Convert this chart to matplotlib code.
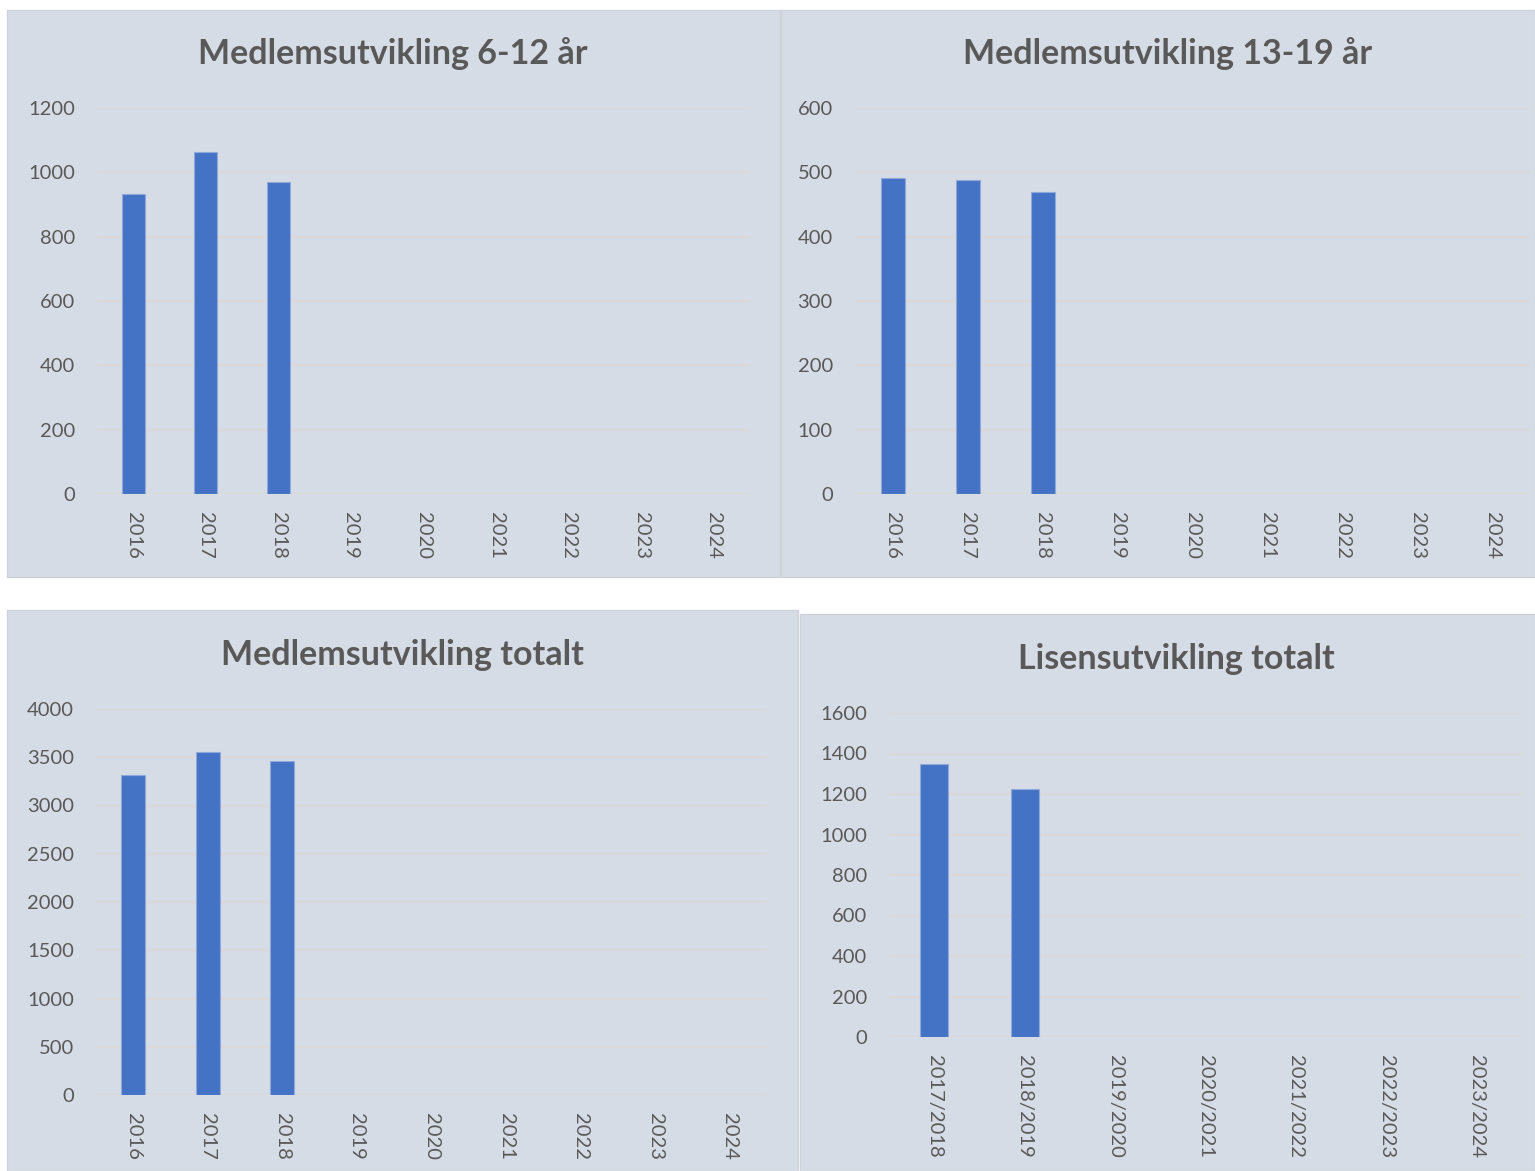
import matplotlib as mpl
mpl.use('Agg')
import matplotlib.pyplot as plt
from matplotlib.patches import Rectangle

years = ['2016', '2017', '2018', '2019', '2020', '2021', '2022', '2023', '2024']
seasons = ['2017/2018', '2018/2019', '2019/2020', '2020/2021', '2021/2022', '2022/2023', '2023/2024']

members_6_12 = [934, 1062, 969]
members_13_19 = [491, 488, 470]
members_total = [3316, 3554, 3461]
licenses_total = [1348, 1225]

titles = ['Medlemsutvikling 6-12 år', 'Medlemsutvikling 13-19 år',
          'Medlemsutvikling totalt', 'Lisensutvikling totalt']

W, H = 1535, 1171
BG = '#D6DCE5'
BAR = '#4472C4'
GRID = '#D9D9D9'
TXT = '#595959'

plt.rcParams['font.family'] = ['Lato', 'DejaVu Sans']

fig = plt.figure(figsize=(W / 100, H / 100), dpi=100)
fig.patch.set_facecolor('white')


def px_axes(x0, y0, x1, y1):
    ax = fig.add_axes([x0 / W, 1 - y1 / H, (x1 - x0) / W, (y1 - y0) / H])
    ax.set_zorder(2)
    return ax


def panel(x0, y0, x1, y1):
    fig.patches.append(Rectangle((x0 / W, 1 - y1 / H), (x1 - x0) / W, (y1 - y0) / H,
                                 transform=fig.transFigure, facecolor=BG,
                                 edgecolor='#CFD3D9', linewidth=1.0, zorder=-1))


panel(7, 10, 780, 577)
panel(781, 10, 1535, 577)
panel(7, 610, 798, 1171)
panel(800, 614, 1535, 1171)


def draw(box, cats, values, ymax, step, title, tx, ty, width):
    ax = px_axes(*box)
    ax.set_facecolor('none')
    xs = list(range(len(cats)))
    ax.bar(xs[:len(values)], values, width=width, color=BAR, edgecolor='#8FA9DB',
           linewidth=0.8, zorder=3)
    ax.set_xlim(-0.5, len(cats) - 0.5)
    ax.set_ylim(0, ymax)
    ax.set_yticks(range(0, ymax + 1, step))
    ax.set_xticks(xs)
    ax.set_xticklabels(cats, rotation=270, va='top', ha='center')
    ax.tick_params(axis='both', length=0, labelsize=14.5, colors=TXT)
    ax.tick_params(axis='y', pad=16)
    ax.tick_params(axis='x', pad=13)
    ax.grid(axis='y', color=GRID, linewidth=1.6, zorder=0)
    for s in ax.spines.values():
        s.set_visible(False)
    fig.text(tx / W, 1 - ty / H, title, ha='center', va='center', fontsize=24.5,
             fontweight='bold', color=TXT, zorder=3)


draw((97, 108, 750, 494), years, members_6_12, 1200, 200, titles[0], 393, 54, 0.32)
draw((855, 108, 1530, 494), years, members_13_19, 600, 100, titles[1], 1168, 54, 0.32)
draw((96, 709, 767, 1095), years, members_total, 4000, 500, titles[2], 402, 655, 0.32)
draw((889, 713, 1522, 1037), seasons, licenses_total, 1600, 200, titles[3], 1176, 659, 0.31)

fig.savefig('out.png', dpi=100, facecolor='white')
